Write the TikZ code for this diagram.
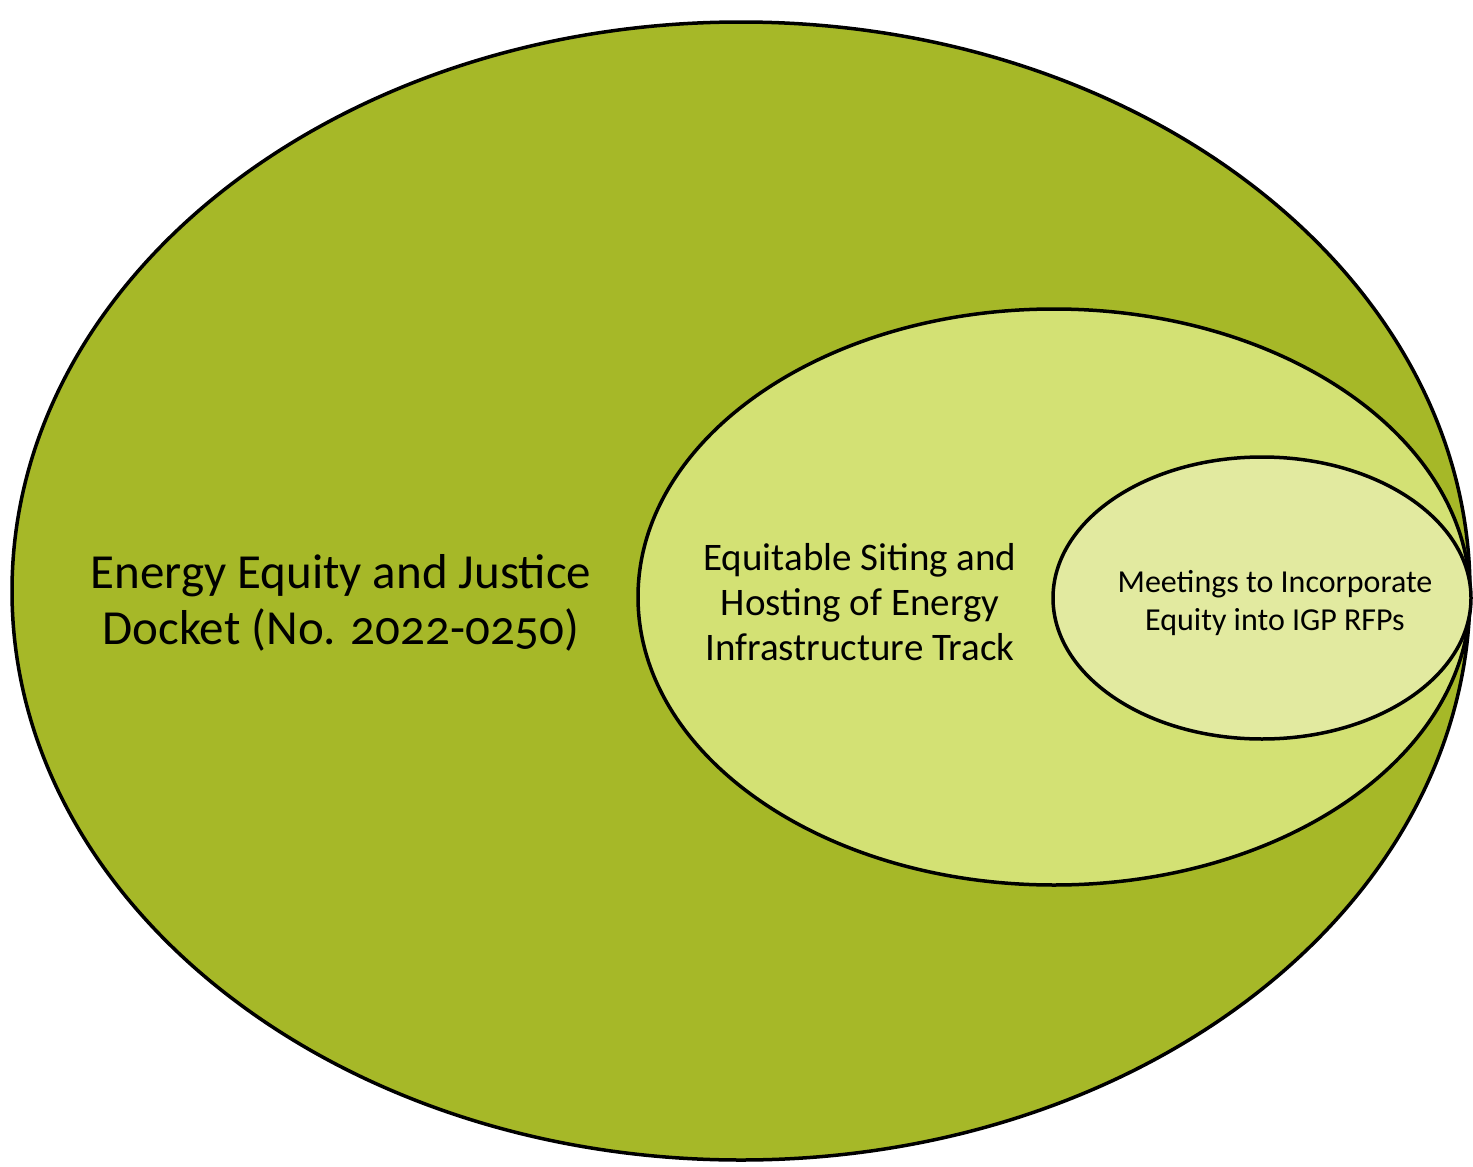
\documentclass[tikz,border=0pt]{standalone}
\usepackage{fontspec}
\setmainfont{Carlito}[Numbers=OldStyle]
\definecolor{outerc}{HTML}{A6B828}
\definecolor{midc}{HTML}{D3E174}
\definecolor{innerc}{HTML}{E2EAA0}
\tikzset{
  ring/.style={draw=black, line width=3.5pt},
  lbl/.style={align=center, text=black, inner sep=0pt},
}
\begin{document}
\begin{tikzpicture}[x=1pt,y=-1pt]
\useasboundingbox (0,0) rectangle (1473,1167);
\path[ring, fill=outerc] (741,591) ellipse [x radius=729, y radius=569];
\path[ring, fill=midc] (1054,597) ellipse [x radius=416, y radius=288];
\path[ring, fill=innerc] (1262,598) ellipse [x radius=209, y radius=141];
\node[lbl, font=\fontsize{49}{56}\selectfont] (outer) at (341,603) {Energy Equity and Justice\\Docket (No. 2022-0250)};
\node[lbl, font=\fontsize{39}{45}\selectfont] (mid) at (860,602) {Equitable Siting and\\Hosting of Energy\\Infrastructure Track};
\node[lbl, font=\fontsize{32}{38}\selectfont] (inner) at (1275,603) {Meetings to Incorporate\\Equity into IGP RFPs};
\end{tikzpicture}
\end{document}
